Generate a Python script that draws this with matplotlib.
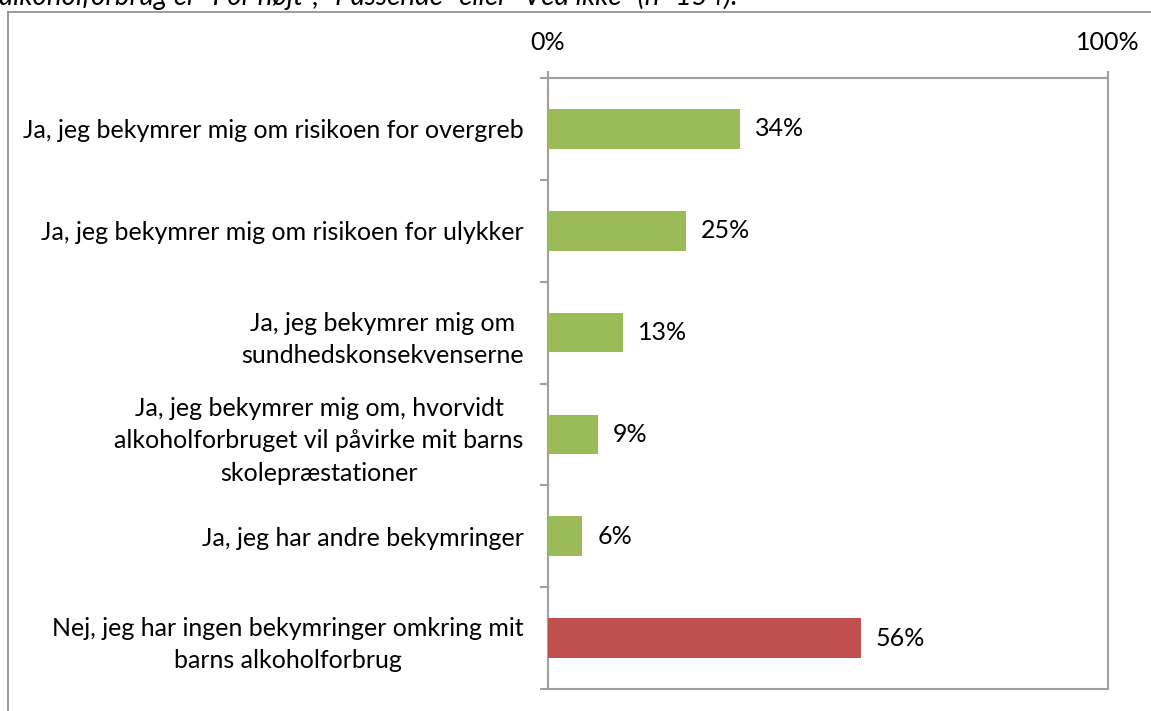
import matplotlib
matplotlib.use('Agg')
import matplotlib.pyplot as plt
from matplotlib.lines import Line2D

categories = [
    "Ja, jeg bekymrer mig om risikoen for overgreb",
    "Ja, jeg bekymrer mig om risikoen for ulykker",
    "Ja, jeg bekymrer mig om\nsundhedskonsekvenserne",
    "Ja, jeg bekymrer mig om, hvorvidt\nalkoholforbruget vil påvirke mit barns\nskolepræstationer",
    "Ja, jeg har andre bekymringer",
    "Nej, jeg har ingen bekymringer omkring mit\nbarns alkoholforbrug",
]
values = [34.3, 24.6, 13.4, 8.9, 6.1, 55.9]
bar_colors = ['#9BBB59', '#9BBB59', '#9BBB59', '#9BBB59', '#9BBB59', '#C0504D']
x_ticks = [0, 100]
x_tick_labels = ['0%', '100%']
title = 'alkoholforbrug er "For højt", "Passende" eller "Ved ikke" (n=154).'

FONT = ['Lato', 'DejaVu Sans']
plt.rcParams['font.family'] = FONT
FS = 18

W, H = 1151, 711
fig = plt.figure(figsize=(W / 100, H / 100), dpi=100)
fig.patch.set_facecolor('white')

# outer frame (top and left edges visible)
fig.add_artist(Line2D([8 / W, 8 / W], [0, 1 - 12 / H], transform=fig.transFigure,
                      color='#8C8C8C', lw=1.2))
fig.add_artist(Line2D([8 / W, 1], [1 - 12 / H, 1 - 12 / H], transform=fig.transFigure,
                      color='#8C8C8C', lw=1.2))

# cropped title at the very top
fig.text(-1 / W, 1 - 5 / H, title, ha='left', va='baseline', fontsize=20,
         style='italic', color='black')

ax = fig.add_axes([548 / W, 1 - 689 / H, 560 / W, 611 / H])
n = len(categories)
pos = list(range(n))
ax.barh(pos, values, height=0.39, color=bar_colors, zorder=3)
ax.set_xlim(0, 100)
ax.set_ylim(n - 0.5, -0.5)

for p, v in zip(pos, values):
    ax.annotate(f"{round(v)}%", xy=(v, p), xytext=(15, 0), textcoords='offset pixels',
                ha='left', va='center', fontsize=FS, color='black')

ax.xaxis.tick_top()
ax.set_xticks(x_ticks)
ax.set_xticklabels(x_tick_labels, fontsize=FS)
ax.tick_params(axis='x', direction='out', length=5, width=1.5, color='#A0A0A0', pad=12)

ax.set_yticks([i - 0.5 for i in range(n + 1)])
ax.set_yticklabels([])
ax.set_yticks(pos, minor=True)
ax.set_yticklabels(categories, minor=True, fontsize=FS, multialignment='center',
                   linespacing=1.48)
ax.tick_params(axis='y', which='major', direction='out', length=6, width=1.5, color='#A0A0A0')
ax.tick_params(axis='y', which='minor', length=0, pad=17.5)

for s in ax.spines.values():
    s.set_color('#A0A0A0')
    s.set_linewidth(1.5)

fig.savefig('out.png', dpi=100, facecolor='white')
